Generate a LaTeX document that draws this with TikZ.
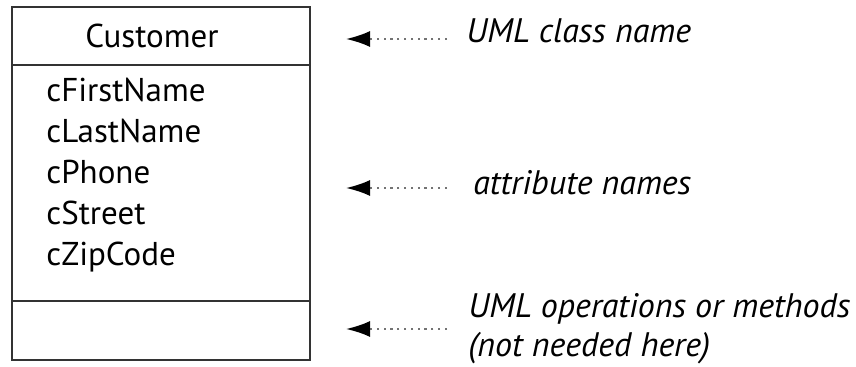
\documentclass[tikz,border=0pt]{standalone}
\usepackage{fontspec}
\setmainfont{PT Sans}
\usetikzlibrary{arrows.meta,positioning}
\tikzset{
  classbox/.style={
    draw=black!80,
    line width=1pt
  },
  member/.style={
    anchor=base west,
    inner sep=0pt,
    font=\fontsize{16.5}{20}\selectfont
  },
  note/.style={
    anchor=base west,
    inner sep=0pt,
    align=left,
    font=\fontsize{17}{19.5}\selectfont\itshape
  },
  pointer/.style={
    -{Latex[length=12pt,width=8pt,black]},
    dash pattern=on 1.1pt off 2.3pt,
    line width=1pt,
    black!55
  }
}
\begin{document}
\begin{tikzpicture}[x=0.5pt,y=-0.5pt]
\useasboundingbox (0,0) rectangle (856,367);
% class box with its three compartments
\draw[classbox] (12,7) rectangle (310,360);
\draw[classbox] (12,65) -- (310,65);
\draw[classbox] (12,301) -- (310,301);
\node[member,anchor=base] (cls) at (152,48) {Customer};
\node[member] (a1) at (46,102) {cFirstName};
\node[member] (a2) at (46,143) {cLastName};
\node[member] (a3) at (46,184) {cPhone};
\node[member] (a4) at (46,225) {cStreet};
\node[member] (a5) at (46,266) {cZipCode};
% callouts
\node[note] (nclass) at (466,43) {UML class name};
\node[note] (nattr) at (473,195) {attribute names};
\node[note,anchor=north west] (nops) at (468,293) {UML operations or methods\\(not needed here)};
\coordinate (s1) at (447,39);
\coordinate (t1) at (346,39);
\coordinate (s2) at (447,188);
\coordinate (t2) at (346,188);
\coordinate (s3) at (447,329);
\coordinate (t3) at (346,329);
\draw[pointer] (s1) -- (t1);
\draw[pointer] (s2) -- (t2);
\draw[pointer] (s3) -- (t3);
\end{tikzpicture}
\end{document}
